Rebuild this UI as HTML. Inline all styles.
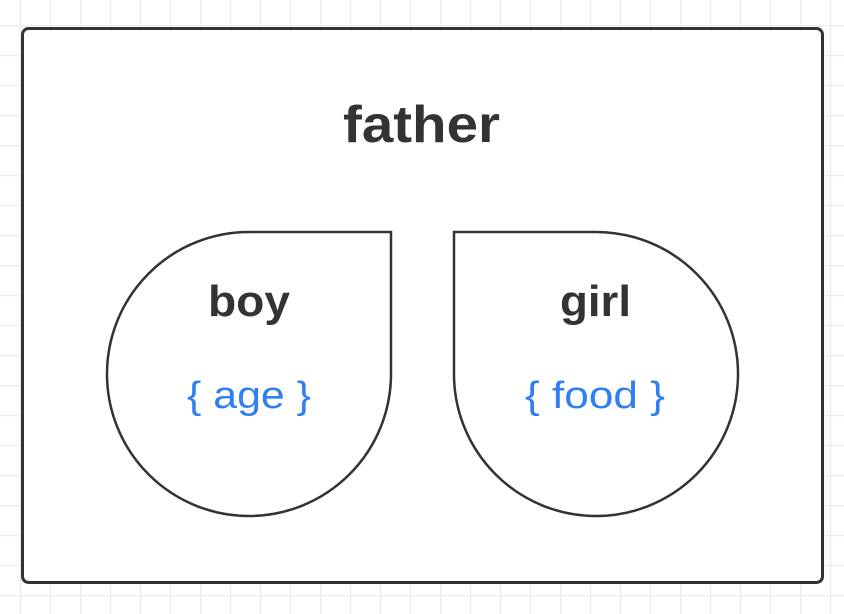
<!DOCTYPE html>
<html><head><meta charset="utf-8"><style>
html,body{margin:0;padding:0;background:#fff;}
svg{display:block;}
text{font-family:"Liberation Sans",sans-serif;}
</style></head><body>
<svg width="844" height="614" viewBox="0 0 844 614" xmlns="http://www.w3.org/2000/svg">
<defs><pattern id="g" x="20" y="25" width="30" height="30" patternUnits="userSpaceOnUse">
<path d="M0.5 0V30M0 0.5H30" stroke="#ececec" stroke-width="1.5" fill="none"/></pattern></defs>
<rect width="844" height="614" fill="url(#g)"/>
<rect x="22.5" y="28.5" width="800" height="554" rx="6" fill="#fff" stroke="#333" stroke-width="3"/>
<text x="343" y="142" textLength="157" lengthAdjust="spacingAndGlyphs" font-size="52" font-weight="bold" fill="#333">father</text>
<path d="M391 232 L391 374 A142 142 0 0 1 249 516 A142 142 0 0 1 107 374 A142 142 0 0 1 249 232 Z" fill="#fff" stroke="#333" stroke-width="2.5"/>
<path d="M454 232 L454 374 A142 142 0 0 0 596 516 A142 142 0 0 0 738 374 A142 142 0 0 0 596 232 Z" fill="#fff" stroke="#333" stroke-width="2.5"/>
<text x="208" y="316" textLength="82" lengthAdjust="spacingAndGlyphs" font-size="44" font-weight="bold" fill="#333">boy</text>
<text x="560" y="316" textLength="71" lengthAdjust="spacingAndGlyphs" font-size="44" font-weight="bold" fill="#333">girl</text>
<text x="187" y="408" textLength="124" lengthAdjust="spacingAndGlyphs" font-size="38" fill="#2f7ff0">{ age }</text>
<text x="525" y="408" textLength="140" lengthAdjust="spacingAndGlyphs" font-size="38" fill="#2f7ff0">{ food }</text>
</svg>
</body></html>
